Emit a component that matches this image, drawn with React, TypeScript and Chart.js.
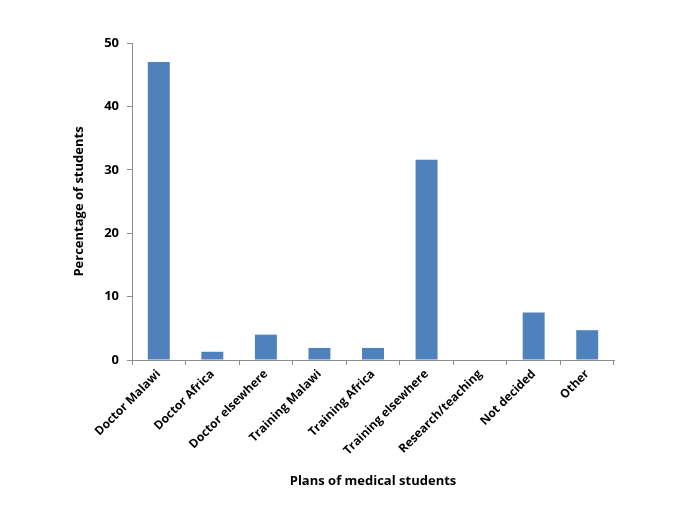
import React, { useEffect, useRef } from "react";
import { Chart, registerables } from "chart.js";

Chart.register(...registerables);

const categories = [
  "Doctor Malawi",
  "Doctor Africa",
  "Doctor elsewhere",
  "Training Malawi",
  "Training Africa",
  "Training elsewhere",
  "Research/teaching",
  "Not decided",
  "Other",
];
const values = [47.0, 1.3, 4.0, 1.9, 1.9, 31.6, 0, 7.5, 4.7];
const yTicks = [0, 10, 20, 30, 40, 50];

export default function App() {
  const ref = useRef<HTMLCanvasElement | null>(null);
  useEffect(() => {
    document.body.style.margin = "0";
    const font = "'Open Sans', 'Noto Sans', sans-serif";
    const chart = new Chart(ref.current!, {
      type: "bar",
      data: {
        labels: categories,
        datasets: [
          {
            data: values,
            backgroundColor: "#4F81BD",
            barPercentage: 0.41,
            categoryPercentage: 1,
          },
        ],
      },
      options: {
        animation: false,
        responsive: false,
        layout: { padding: { left: 71, top: 43, right: 71, bottom: 24 } },
        plugins: { legend: { display: false }, tooltip: { enabled: false } },
        scales: {
          x: {
            afterFit: (s: any) => {
              s.height = 129;
            },
            grid: {
              drawOnChartArea: false,
              color: "#8c8c8c",
              tickLength: 5,
              offset: true,
            },
            border: { color: "#8c8c8c" },
            ticks: {
              minRotation: 45,
              maxRotation: 45,
              color: "#000",
              font: { family: font, size: 12, weight: "bold" },
              padding: 2,
            },
            title: {
              display: true,
              text: "Plans of medical students",
              color: "#000",
              font: { family: font, size: 13, weight: "bold" },
              padding: { top: 0, bottom: 0 },
            },
          },
          y: {
            min: 0,
            max: 50,
            afterFit: (s: any) => {
              s.width = 61;
            },
            afterBuildTicks: (s: any) => {
              s.ticks = yTicks.map((v) => ({ value: v }));
            },
            grid: {
              drawOnChartArea: false,
              color: "#8c8c8c",
              tickLength: 5,
            },
            border: { color: "#8c8c8c" },
            ticks: {
              color: "#000",
              font: { family: font, size: 13, weight: "bold" },
              padding: 8,
            },
            title: {
              display: true,
              text: "Percentage of students",
              color: "#000",
              font: { family: font, size: 13, weight: "bold" },
              padding: { top: 0, bottom: 0 },
            },
          },
        },
      },
    });
    return () => chart.destroy();
  }, []);
  return (
    <div style={{ width: 685, height: 513, background: "#fff" }}>
      <canvas ref={ref} width={685} height={513} />
    </div>
  );
}
